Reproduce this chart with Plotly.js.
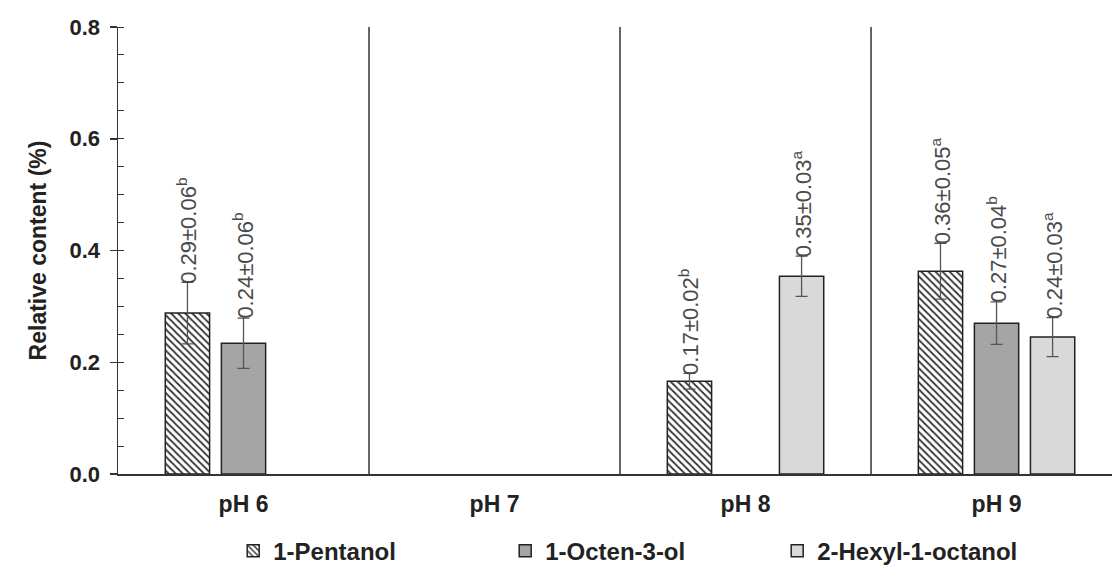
<!DOCTYPE html>
<html>
<head>
<meta charset="utf-8">
<script src="https://cdn.plot.ly/plotly-3.0.1.min.js"></script>
<style>html,body{margin:0;padding:0;background:#fff;}#chart{width:1112px;height:573px;}</style>
</head>
<body>
<div id="chart"></div>
<script>
var categories = ['pH 6', 'pH 7', 'pH 8', 'pH 9'];
var seriesNames = ['1-Pentanol', '1-Octen-3-ol', '2-Hexyl-1-octanol'];
var pentanol = [0.288, null, 0.166, 0.363];
var pentanolErr = [0.055, null, 0.014, 0.05];
var octenol = [0.234, null, null, 0.270];
var octenolErr = [0.045, null, null, 0.038];
var hexyl = [null, null, 0.354, 0.245];
var hexylErr = [null, null, 0.036, 0.035];
var pentanolLabels = ['0.29±0.06<sup>b</sup>', '', '0.17±0.02<sup>b</sup>', '0.36±0.05<sup>a</sup>'];
var octenolLabels = ['0.24±0.06<sup>b</sup>', '', '', '0.27±0.04<sup>b</sup>'];
var hexylLabels = ['', '', '0.35±0.03<sup>a</sup>', '0.24±0.03<sup>a</sup>'];
var yTicks = [0, 0.2, 0.4, 0.6, 0.8];

var FONT = 'Liberation Sans, Arial, sans-serif';
var bargap = 0.33;
var nSeries = 3;
var slot = (1 - bargap) / nSeries;

function errObj(arr) {
  return {type: 'data', array: arr, visible: true, color: '#555', thickness: 1.3, width: 6};
}

var traces = [
  {type: 'bar', name: seriesNames[0], x: categories, y: pentanol, error_y: errObj(pentanolErr),
   marker: {color: '#ffffff', line: {color: '#222', width: 1.5},
            pattern: {shape: '\\', fgcolor: '#333', bgcolor: '#ffffff', size: 5, solidity: 0.35}}},
  {type: 'bar', name: seriesNames[1], x: categories, y: octenol, error_y: errObj(octenolErr),
   marker: {color: '#a5a5a5', line: {color: '#222', width: 1.5}}},
  {type: 'bar', name: seriesNames[2], x: categories, y: hexyl, error_y: errObj(hexylErr),
   marker: {color: '#d9d9d9', line: {color: '#222', width: 1.5}}}
];

var values = [pentanol, octenol, hexyl];
var errs = [pentanolErr, octenolErr, hexylErr];
var labels = [pentanolLabels, octenolLabels, hexylLabels];
var annotations = [];
for (var s = 0; s < nSeries; s++) {
  for (var i = 0; i < categories.length; i++) {
    if (values[s][i] === null || !labels[s][i]) continue;
    annotations.push({
      x: i + (s - 1) * slot, xref: 'x',
      y: values[s][i] + errs[s][i], yref: 'y',
      text: labels[s][i], textangle: -90, showarrow: false,
      xanchor: 'center', yanchor: 'bottom', yshift: -3,
      font: {family: FONT, size: 22, color: '#4a4a4a'}
    });
  }
}

var shapes = [];
for (var k = 0; k < categories.length - 1; k++) {
  shapes.push({type: 'line', xref: 'x', yref: 'y', x0: k + 0.5, x1: k + 0.5, y0: 0, y1: 0.8,
               line: {color: '#333', width: 1.5}});
}

var layout = {
  width: 1112, height: 573,
  margin: {l: 118, r: 0, t: 27, b: 99},
  paper_bgcolor: '#fff', plot_bgcolor: '#fff',
  barmode: 'group', bargap: bargap, bargroupgap: 0.21,
  showlegend: true,
  legend: {orientation: 'h', xref: 'container', yref: 'container',
           x: 0.2097, xanchor: 'left', y: 0.038, yanchor: 'middle',
           entrywidth: 227, entrywidthmode: 'pixels', itemwidth: 30,
           font: {family: FONT, size: 24, color: '#222', weight: 'bold'}},
  xaxis: {type: 'category', range: [-0.5, 3.46], showline: true, linecolor: '#333', linewidth: 2,
          ticks: '', showgrid: false, zeroline: false, ticklabelstandoff: 8,
          tickfont: {family: FONT, size: 23, color: '#222', weight: 'bold'}},
  yaxis: {range: [0, 0.8], tickvals: yTicks, tickformat: '.1f', showline: true, linecolor: '#333',
          linewidth: 1.5, ticks: 'outside', ticklen: 7, tickwidth: 1.5, tickcolor: '#333',
          ticklabelstandoff: 5,
          minor: {dtick: 0.05, ticks: 'inside', ticklen: 6, tickwidth: 1, tickcolor: '#333', showgrid: false},
          showgrid: false, zeroline: false,
          tickfont: {family: FONT, size: 22, color: '#222', weight: 'bold'},
          title: {text: 'Relative content (%)', standoff: 16,
                  font: {family: FONT, size: 23, color: '#222', weight: 'bold'}}},
  annotations: annotations,
  shapes: shapes
};

Plotly.newPlot('chart', traces, layout, {displayModeBar: false, staticPlot: true});
</script>
</body>
</html>
